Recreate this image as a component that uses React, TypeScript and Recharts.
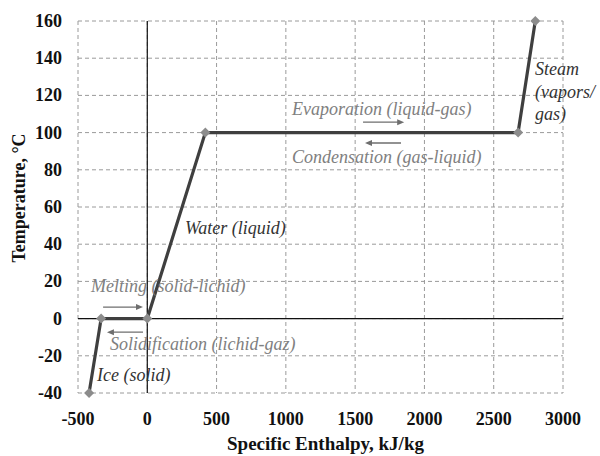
import React from 'react';
import { LineChart, Line, XAxis, YAxis, CartesianGrid, ReferenceLine, ReferenceDot, Label } from 'recharts';

// heating curve of water: enthalpy (kJ/kg) vs temperature (°C)
const enthalpy = [-420, -333, 0, 419, 2676, 2800];
const temperature = [-40, 0, 0, 100, 100, 160];
const xTicks = [-500, 0, 500, 1000, 1500, 2000, 2500, 3000];
const yTicks = [-40, -20, 0, 20, 40, 60, 80, 100, 120, 140, 160];

// annotations anchored in data coordinates
const noteText = [
  'Evaporation (liquid-gas)',
  'Condensation (gas-liquid)',
  'Steam',
  '(vapors/',
  'gas)',
  'Water (liquid)',
  'Melting (solid-lichid)',
  'Solidification (lichid-gaz)',
  'Ice (solid)',
];
const noteX = [1044, 1044, 2798, 2798, 2798, 272, -406, -269, -363];
const noteY = [109.5, 83.7, 131, 118.6, 106.8, 45.4, 14.3, -16.9, -33.5];
const noteDark = [false, false, true, true, true, true, false, false, true];

// direction arrows
const arrowFrom = [1557, 1831, -319, -31];
const arrowTo = [1854, 1571, -31, -291];
const arrowY = [105.6, 94.4, 6.2, -7.3];

const data = enthalpy.map((h, i) => ({ h, t: temperature[i] }));

const serif = "'Liberation Serif', 'Times New Roman', serif";
const gray = '#808080';

const Diamond = (p: any) => {
  const { cx, cy } = p;
  if (cx == null || cy == null) return <g />;
  const r = 5;
  return (
    <path
      d={`M${cx},${cy - r} L${cx + r},${cy} L${cx},${cy + r} L${cx - r},${cy} Z`}
      fill="#8c8c8c"
    />
  );
};

const Arrow = (p: any) => {
  const { x1, y1, x2, y2 } = p;
  const dir = x2 > x1 ? 1 : -1;
  return (
    <g>
      <line x1={x1} y1={y1} x2={x2 - dir * 4} y2={y2} stroke="#6e6e6e" strokeWidth={1.3} />
      <path d={`M${x2},${y2} L${x2 - dir * 7},${y2 - 3} L${x2 - dir * 7},${y2 + 3} Z`} fill="#6e6e6e" />
    </g>
  );
};

const tickStyle = { fontFamily: serif, fontSize: 18, fontWeight: 700, fill: '#111' };

const XTick = (p: any) => (
  <text x={p.x} y={p.y + 30} textAnchor="middle" style={tickStyle}>
    {p.payload.value}
  </text>
);

const YTick = (p: any) => (
  <text x={p.x - 14} y={p.y + 6} textAnchor="end" style={tickStyle}>
    {p.payload.value}
  </text>
);

export default function App() {
  return (
    <div style={{ position: 'absolute', left: 0, top: 0 }}>
      <LineChart
        width={600}
        height={456}
        data={data}
        margin={{ top: 21, right: 37, bottom: 3, left: 8 }}
      >
        <CartesianGrid stroke="#9a9a9a" strokeDasharray="4 3" />
        <XAxis
          type="number"
          dataKey="h"
          domain={[-500, 3000]}
          ticks={xTicks}
          axisLine={false}
          tickLine={false}
          tickSize={0}
          height={60}
          tick={<XTick />}
        >
          <Label
            content={(props: any) => {
              const vb = props.viewBox;
              return (
                <text
                  x={vb.x + vb.width / 2 + 5}
                  y={vb.y + vb.height - 3}
                  textAnchor="middle"
                  style={{ fontFamily: serif, fontSize: 19, fontWeight: 700, fill: '#111' }}
                >
                  Specific Enthalpy, kJ/kg
                </text>
              );
            }}
          />
        </XAxis>
        <YAxis
          type="number"
          dataKey="t"
          domain={[-40, 160]}
          ticks={yTicks}
          axisLine={false}
          tickLine={false}
          tickSize={0}
          width={70}
          tick={<YTick />}
        >
          <Label
            content={(props: any) => {
              const vb = props.viewBox;
              const cx = 19;
              const cy = vb.y + vb.height / 2 - 9;
              return (
                <text
                  x={cx}
                  y={cy}
                  transform={`rotate(-90 ${cx} ${cy})`}
                  textAnchor="middle"
                  dominantBaseline="central"
                  style={{ fontFamily: serif, fontSize: 18, fontWeight: 700, fill: '#111' }}
                >
                  Temperature, °C
                </text>
              );
            }}
          />
        </YAxis>
        <ReferenceLine x={0} stroke="#111" strokeWidth={1.2} />
        <ReferenceLine y={0} stroke="#111" strokeWidth={1.2} />
        {arrowFrom.map((a, i) => (
          <ReferenceLine
            key={'arrow' + i}
            segment={[
              { x: a, y: arrowY[i] },
              { x: arrowTo[i], y: arrowY[i] },
            ]}
            shape={Arrow}
          />
        ))}
        <Line
          type="linear"
          dataKey="t"
          stroke="#3f3f3f"
          strokeWidth={3.2}
          dot={<Diamond />}
          activeDot={false}
          isAnimationActive={false}
        />
        {noteText.map((s, i) => (
          <ReferenceDot
            key={'note' + i}
            x={noteX[i]}
            y={noteY[i]}
            r={0}
            shape={(p: any) => (
              <text
                x={p.cx}
                y={p.cy}
                style={{
                  fontFamily: serif,
                  fontStyle: 'italic',
                  fontSize: 18,
                  fill: noteDark[i] ? '#333' : gray,
                }}
              >
                {s}
              </text>
            )}
          />
        ))}
      </LineChart>
    </div>
  );
}
